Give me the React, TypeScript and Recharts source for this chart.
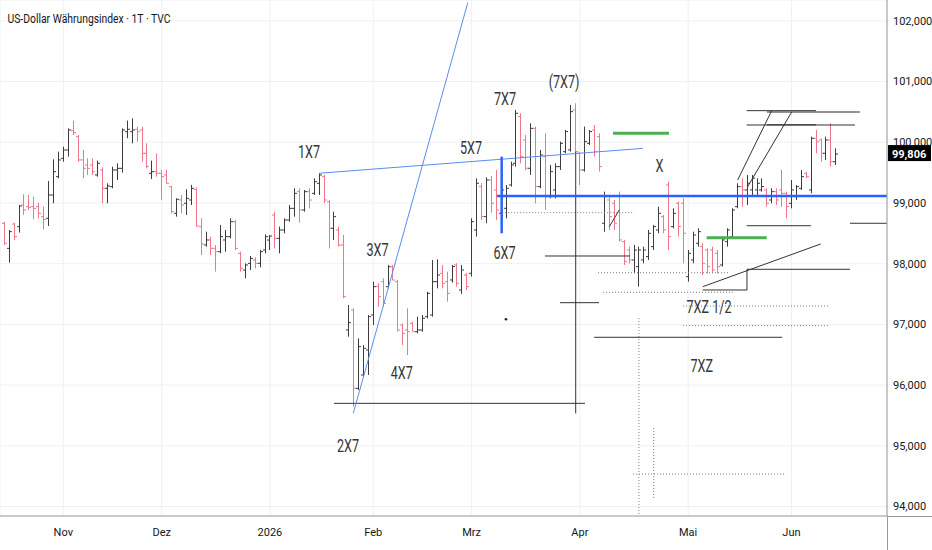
import React from 'react'
import {
  ComposedChart, Bar, XAxis, YAxis, CartesianGrid, ReferenceLine, ReferenceDot,
} from 'recharts'

// Tageskurse (Index 0 = erster sichtbarer Handelstag, Mitte Oktober)
const opens = [
  98.665, 98.253, 98.654, 98.61, 98.967, 98.94, 98.94, 98.94, 98.775, 98.748,
  99.132, 99.434, 99.736, 99.873, 100.192, 100.093, 99.709, 99.626, 99.626, 99.462,
  99.544, 99.242, 99.269, 99.544, 99.571, 100.175, 100.175, 100.214, 100.203, 99.818,
  99.489, 99.516, 99.489, 99.462, 99.269, 98.83, 99.05, 98.995, 99.05, 99.225,
  98.61, 98.308, 98.391, 98.253, 98.198, 98.391, 98.445, 98.692, 98.171, 97.896,
  98.006, 98.061, 98.006, 98.226, 98.39, 98.802, 98.418, 98.555, 98.72, 98.912,
  99.187, 98.885, 99.187, 99.159, 99.324, 99.434, 99.022, 98.583, 98.555, 98.308,
  96.908, 97.237, 95.947, 96.167, 96.579, 97.155, 97.622, 97.704, 97.622, 97.951,
  97.704, 96.99, 96.908, 97.018, 96.88, 96.908, 97.128, 97.155, 97.704, 97.841,
  97.704, 97.732, 97.979, 97.567, 97.814, 97.842, 98.556, 99.27, 98.776, 99.379,
  99.215, 98.83, 98.913, 99.297, 99.654, 100.423, 100.038, 99.572, 100.23, 99.27,
  99.764, 99.105, 99.215, 99.599, 99.846, 99.874, 100.533, 99.819, 99.544, 99.983,
  100.203, 100.093, 98.666, 99.05, 98.995, 99.105, 98.364, 98.226, 98.062, 97.952,
  98.062, 98.117, 98.281, 98.556, 98.775, 99.297, 98.611, 98.995, 98.995, 97.787,
  98.062, 98.336, 98.281, 98.226, 98.226, 98.171, 97.979, 98.364, 98.446, 98.94,
  99.27, 99.215, 99.215, 99.215, 99.215, 99.215, 99.05, 99.187, 99.215, 99.16,
  98.995, 99.105, 99.242, 99.489, 99.215, 100.066, 100.038, 99.819, 100.038, 99.681,
]
const highs = [
  98.693, 98.555, 98.676, 98.967, 99.143, 99.132, 99.105, 99.006, 98.94, 99.363,
  99.72, 99.846, 99.928, 100.23, 100.357, 100.12, 99.873, 99.736, 99.736, 99.698,
  99.588, 99.324, 99.599, 99.654, 100.23, 100.357, 100.395, 100.258, 100.258, 99.983,
  99.698, 99.818, 99.544, 99.544, 99.28, 99.077, 99.132, 99.225, 99.297, 99.258,
  98.748, 98.528, 98.446, 98.308, 98.638, 98.555, 98.747, 98.72, 98.198, 98.006,
  98.127, 98.105, 98.226, 98.484, 98.473, 98.857, 98.61, 98.747, 98.967, 99.242,
  99.242, 99.214, 99.242, 99.406, 99.489, 99.461, 99.049, 98.857, 98.61, 98.473,
  97.32, 97.265, 96.771, 96.661, 97.155, 97.704, 97.677, 97.759, 97.979, 97.979,
  97.731, 97.018, 97.265, 97.045, 97.128, 97.155, 97.539, 98.061, 98.072, 97.979,
  97.869, 97.979, 98.007, 97.979, 97.842, 98.748, 99.407, 99.325, 99.423, 99.445,
  99.544, 99.27, 99.297, 99.681, 100.533, 100.478, 100.121, 100.313, 100.258, 99.874,
  100.148, 99.627, 99.654, 100.011, 100.203, 100.615, 100.642, 99.846, 100.258, 100.203,
  100.285, 100.148, 99.187, 99.105, 99.05, 99.187, 98.391, 98.281, 98.309, 98.281,
  98.281, 98.556, 98.638, 98.94, 98.803, 99.352, 98.913, 99.023, 99.077, 98.226,
  98.528, 98.583, 98.336, 98.254, 98.281, 98.226, 98.446, 98.583, 98.913, 99.325,
  99.407, 99.462, 99.462, 99.407, 99.407, 99.242, 99.242, 99.242, 99.544, 99.187,
  99.379, 99.297, 99.544, 99.517, 100.093, 100.203, 100.066, 100.093, 100.313, 99.901,
]
const lows = [
  98.308, 98.017, 98.391, 98.512, 98.803, 98.885, 98.731, 98.748, 98.566, 98.621,
  98.995, 99.407, 99.681, 99.763, 100.12, 99.681, 99.407, 99.462, 99.462, 99.434,
  98.995, 98.995, 99.242, 99.379, 99.5, 100.066, 99.983, 100.011, 99.681, 99.571,
  99.396, 99.434, 99.05, 99.324, 98.83, 98.775, 98.83, 98.803, 98.967, 98.61,
  98.144, 98.281, 98.144, 97.869, 98.171, 98.198, 98.418, 98.226, 97.869, 97.759,
  97.896, 97.924, 97.94, 98.171, 98.226, 98.253, 98.171, 98.5, 98.692, 98.775,
  98.676, 98.857, 98.912, 99.132, 99.132, 98.994, 98.253, 98.39, 98.281, 97.43,
  96.798, 95.645, 95.919, 96.139, 96.167, 96.99, 97.292, 97.292, 97.594, 97.731,
  96.88, 96.661, 96.496, 96.88, 96.853, 96.88, 97.1, 97.128, 97.594, 97.594,
  97.375, 97.688, 97.622, 97.502, 97.567, 97.787, 98.446, 98.721, 98.666, 98.841,
  98.721, 98.776, 98.748, 99.27, 99.599, 99.654, 99.544, 99.462, 98.995, 99.242,
  98.885, 99.077, 99.077, 99.544, 99.819, 99.846, 99.791, 99.297, 99.517, 99.956,
  99.764, 99.517, 98.528, 98.556, 98.556, 98.364, 97.979, 98.007, 97.842, 97.622,
  98.007, 98.062, 98.226, 98.501, 98.501, 98.226, 98.583, 98.446, 98.007, 97.705,
  98.007, 98.281, 97.814, 97.842, 97.842, 97.842, 97.952, 98.281, 98.418, 98.913,
  98.94, 98.968, 99.105, 99.105, 99.187, 98.94, 98.995, 98.968, 98.94, 98.748,
  98.913, 99.05, 99.215, 99.407, 99.16, 99.819, 99.681, 99.709, 99.599, 99.627,
]
const closes = [
  98.336, 98.528, 98.446, 98.951, 98.885, 98.929, 98.91, 98.83, 98.731, 99.132,
  99.516, 99.709, 99.873, 100.203, 100.159, 99.709, 99.571, 99.571, 99.516, 99.654,
  99.242, 99.28, 99.544, 99.571, 100.203, 100.214, 100.203, 100.175, 99.818, 99.599,
  99.516, 99.489, 99.434, 99.324, 98.857, 99.061, 98.967, 99.077, 99.242, 98.621,
  98.325, 98.391, 98.253, 98.198, 98.446, 98.446, 98.692, 98.253, 97.924, 97.979,
  98.088, 98.006, 98.198, 98.445, 98.456, 98.418, 98.555, 98.72, 98.912, 99.159,
  98.885, 99.187, 99.049, 99.351, 99.461, 99.049, 98.583, 98.775, 98.308, 97.457,
  97.029, 95.947, 96.634, 96.606, 97.128, 97.622, 97.457, 97.347, 97.951, 97.731,
  96.908, 96.853, 96.88, 96.88, 96.908, 97.1, 97.512, 97.704, 97.814, 97.677,
  97.512, 97.952, 97.677, 97.897, 97.622, 98.693, 99.325, 98.776, 99.379, 98.995,
  98.885, 99.215, 99.242, 99.627, 100.478, 99.764, 99.572, 100.23, 99.27, 99.791,
  99.105, 99.517, 99.599, 99.983, 100.176, 100.505, 99.846, 99.544, 100.011, 100.176,
  99.846, 99.599, 99.105, 98.776, 98.666, 98.391, 98.034, 98.062, 98.226, 98.226,
  98.226, 98.501, 98.611, 98.83, 98.556, 98.446, 98.83, 98.611, 98.501, 98.171,
  98.473, 98.528, 98.007, 97.952, 97.897, 97.952, 98.391, 98.556, 98.885, 99.27,
  99.215, 99.325, 99.407, 99.325, 99.27, 98.995, 99.187, 99.05, 99.16, 98.94,
  99.215, 99.27, 99.434, 99.434, 100.066, 100.011, 99.819, 100.038, 99.681, 99.806,
]

// Monatsbeschriftung der Zeitachse (Index des ersten Handelstags)
const monthTickIndex = [12, 32, 54, 75, 95, 117, 139, 160]
const monthTickLabels = ['Nov', 'Dez', '2026', 'Feb', 'Mrz', 'Apr', 'Mai', 'Jun']
const priceTicks = [94, 95, 96, 97, 98, 99, 100, 101, 102]

// Zeichnungen: [index1, kurs1, index2, kurs2]
const thinBlueLines = [
  [64, 99.49, 129.8, 99.9],
  [70.94, 95.535, 94.21, 102.3],
]
const boldBlueLines = [
  [100.15, 99.115, 179.4, 99.115],
  [101.1, 99.763, 101.1, 98.501],
]
const greenLines = [
  [123.73, 100.148, 135.1, 100.148],
  [142.77, 98.428, 154.97, 98.428],
]
const blackLines = [
  [67.02, 95.7, 118.04, 95.7],
  [116.15, 99.845, 116.15, 95.535],
  [112.96, 97.358, 120.89, 97.358],
  [109.9, 98.127, 127.2, 98.127],
  [119.9, 96.788, 158.1, 96.788],
  [150.9, 100.521, 165.0, 100.521],
  [150.9, 100.285, 172.9, 100.285],
  [149.07, 99.379, 155.98, 100.521],
  [151.1, 99.269, 160.05, 100.499],
  [150.9, 98.626, 163.97, 98.626],
  [171.9, 98.666, 179.4, 98.666],
  [141.96, 97.621, 165.94, 98.325],
  [150.96, 97.908, 150.96, 97.567],
  [150.96, 97.908, 171.9, 97.908],
  [141.96, 97.567, 150.96, 97.567],
  [122.97, 98.61, 125.0, 98.885],
]
const grayLines = [
  [155.0, 100.499, 173.9, 100.499],
  [155.0, 100.29, 165.0, 100.29],
]
const dottedLines = [
  [101.2, 98.84, 127.8, 98.84],
  [120.68, 97.852, 147.1, 97.852],
  [121.7, 97.529, 148.1, 97.529],
  [137.95, 97.303, 167.8, 97.303],
  [137.95, 96.979, 167.8, 96.979],
  [129.0, 97.105, 129.0, 93.85],
  [132.0, 95.293, 132.0, 94.14],
  [127.8, 94.535, 158.9, 94.535],
]
const notes: [string, number, number][] = [
  ['1X7', 61.94, 99.84],
  ['5X7', 94.87, 99.901],
  ['7X7', 101.78, 100.713],
  ['(7X7)', 113.77, 100.993],
  ['X', 133.18, 99.6],
  ['3X7', 75.86, 98.226],
  ['6X7', 101.67, 98.168],
  ['4X7', 80.78, 96.194],
  ['2X7', 69.87, 94.997],
  ['7XZ 1/2', 143.24, 97.278],
  ['7XZ', 141.76, 96.315],
]
const markDot = [101.98, 97.084]

const UP = '#3d3d3d'
const DOWN = '#f0768a'

const rows = opens.map((o, i) => ({
  i,
  open: o,
  high: highs[i],
  low: lows[i],
  close: closes[i],
  range: [lows[i], highs[i]],
}))

const fmt = (v: number) => v.toFixed(3).replace('.', ',')

function OhlcBar(props: any) {
  const { x, y, width, height, payload } = props
  if (x == null || !payload) return null
  const top = Math.min(y, y + height)
  const span = Math.abs(height)
  const { open, high, low, close } = payload
  const k = high === low ? 0 : span / (high - low)
  const cx = Math.round(x + width / 2) + 0.5
  const yo = top + (high - open) * k
  const yc = top + (high - close) * k
  const color = close >= open ? UP : DOWN
  return (
    <g stroke={color} strokeWidth={1}>
      <line x1={cx} x2={cx} y1={top} y2={top + span} />
      <line x1={cx - 2.5} x2={cx} y1={yo} y2={yo} />
      <line x1={cx} x2={cx + 2.5} y1={yc} y2={yc} />
    </g>
  )
}

function noteLabel(text: string) {
  return (p: any) => {
    const vb = p.viewBox || {}
    const cx = vb.x + (vb.width || 0) / 2
    const cy = vb.y + (vb.height || 0) / 2
    return (
      <text
        x={cx}
        y={cy}
        transform={`translate(${cx} ${cy}) scale(0.7 1) translate(${-cx} ${-cy})`}
        textAnchor="middle"
        dominantBaseline="central"
        fontFamily="Roboto, sans-serif"
        fontSize={18}
        fill="#363636"
      >
        {text}
      </text>
    )
  }
}

function priceTag(p: any) {
  const vb = p.viewBox || {}
  const x = vb.x + vb.width + 1
  const y = vb.y
  return (
    <g>
      <rect x={x} y={y - 9} width={43} height={16} fill="#000" />
      <text x={x + 4} y={y} dominantBaseline="central" fontFamily="Roboto, sans-serif"
        fontSize={11} fontWeight={700} fill="#fff">
        {fmt(closes[closes.length - 1])}
      </text>
    </g>
  )
}

function segs(list: number[][], key: string, stroke: string, width: number, dash?: string) {
  return list.map((s, n) => (
    <ReferenceLine
      key={key + n}
      segment={[{ x: s[0], y: s[1] }, { x: s[2], y: s[3] }]}
      stroke={stroke}
      strokeWidth={width}
      strokeDasharray={dash}
      ifOverflow="visible"
    />
  ))
}

export default function App() {
  return (
    <div style={{ position: 'absolute', left: 0, top: 0, width: 932, height: 550, background: '#fff' }}>
      <ComposedChart
        width={932}
        height={550}
        data={rows}
        margin={{ top: 0, right: 0, bottom: 0, left: 0 }}
      >
        <CartesianGrid stroke="#eef0f4" strokeWidth={1} />
        <XAxis
          dataKey="i"
          type="number"
          domain={[-0.866, 179.42]}
          allowDataOverflow
          ticks={monthTickIndex}
          interval={0}
          tickFormatter={(v: number) => monthTickLabels[monthTickIndex.indexOf(v)] ?? ''}
          height={34}
          tickLine={false}
          tickSize={0}
          tickMargin={12}
          axisLine={{ stroke: '#9a9a9a' }}
          tick={{ fill: '#131722', fontSize: 11, fontFamily: 'Roboto, sans-serif' }}
        />
        <YAxis
          orientation="right"
          type="number"
          domain={[93.844, 102.344]}
          allowDataOverflow
          ticks={priceTicks}
          interval={0}
          width={45}
          tickFormatter={fmt}
          tickLine={false}
          tickSize={0}
          tickMargin={6}
          axisLine={{ stroke: '#9a9a9a' }}
          tick={{ fill: '#131722', fontSize: 11, fontFamily: 'Roboto, sans-serif' }}
        />
        {segs(dottedLines, 'd', '#7c7c7c', 1, '1 2')}
        {segs(grayLines, 'g', '#6e6e6e', 1.6)}
        {segs(blackLines, 'k', '#333333', 1)}
        {segs(thinBlueLines, 'tb', '#5a8cf2', 1)}
        {segs(greenLines, 'gr', '#4caf50', 3)}
        <Bar dataKey="range" barSize={4} shape={<OhlcBar />} isAnimationActive={false} />
        {segs(boldBlueLines, 'bb', '#2962ff', 2.5)}
        <ReferenceDot x={markDot[0]} y={markDot[1]} r={1.3} fill="#222" stroke="none" ifOverflow="visible" />
        {notes.map((n) => (
          <ReferenceDot
            key={n[0]}
            x={n[1]}
            y={n[2]}
            r={0}
            fill="none"
            stroke="none"
            ifOverflow="visible"
            label={noteLabel(n[0])}
          />
        ))}
        <ReferenceLine y={closes[closes.length - 1]} stroke="none" ifOverflow="visible" label={priceTag} />
      </ComposedChart>
      <svg width={932} height={550} style={{ position: 'absolute', left: 0, top: 0, pointerEvents: 'none' }}>
        <text x={7.5} y={23} fontFamily="Roboto, sans-serif" fontSize={12.5} fill="#131722"
          textLength={163} lengthAdjust="spacingAndGlyphs">
          US-Dollar Währungsindex · 1T · TVC
        </text>
        <line x1={887.5} x2={887.5} y1={516} y2={550} stroke="#9a9a9a" />
        <line x1={887} x2={932} y1={516.5} y2={516.5} stroke="#9a9a9a" />
      </svg>
    </div>
  )
}
